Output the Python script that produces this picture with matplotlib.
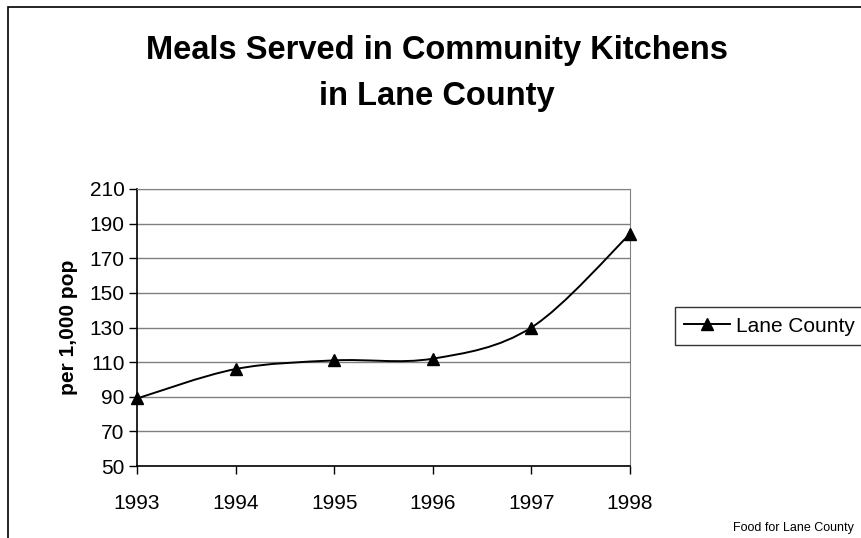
import numpy as np
import matplotlib.pyplot as plt
from matplotlib.path import Path
from matplotlib.patches import PathPatch, Rectangle
from matplotlib.lines import Line2D

years = [1993, 1994, 1995, 1996, 1997, 1998]
meals = [89, 106, 111, 112, 130, 184]
y_ticks = [50, 70, 90, 110, 130, 150, 170, 190, 210]

plt.rcParams['font.family'] = ['Liberation Sans', 'DejaVu Sans']

fig = plt.figure(figsize=(8.62, 5.38), dpi=100)
ax = fig.add_axes([137/862, 1-466/538, (630-137)/862, (466-189)/538])

# smoothed line (bezier through points, like the old spreadsheet "smoothed line")
x = np.array(years, dtype=float)
y = np.array(meals, dtype=float)
verts = [(x[0], y[0])]
codes = [Path.MOVETO]
n = len(x)
for i in range(n-1):
    i0 = max(i-1, 0)
    i3 = min(i+2, n-1)
    c1 = (x[i] + (x[i+1]-x[i0])/6, y[i] + (y[i+1]-y[i0])/6)
    c2 = (x[i+1] - (x[i3]-x[i])/6, y[i+1] - (y[i3]-y[i])/6)
    verts += [c1, c2, (x[i+1], y[i+1])]
    codes += [Path.CURVE4]*3
ax.add_patch(PathPatch(Path(verts, codes), fill=False, edgecolor='black', lw=1.4, zorder=3))
ax.plot(years, meals, ls='none', marker='^', ms=9, color='black', zorder=4, clip_on=False)

ax.set_xlim(1993, 1998)
ax.set_ylim(50, 210)
ax.set_yticks(y_ticks)
ax.set_xticks(years)
ax.tick_params(labelsize=15, length=6, width=1, color='black')
ax.tick_params(axis='y', pad=3)
ax.tick_params(axis='x', pad=14)
ax.yaxis.grid(True, color='#808080', lw=1)
ax.set_axisbelow(True)
for s in ['top', 'right']:
    ax.spines[s].set_color('#808080')
ax.spines['left'].set_linewidth(1.2)
ax.spines['bottom'].set_linewidth(1.2)
ax.set_ylabel('per 1,000 pop', fontsize=15, fontweight='bold', labelpad=8)

fig.text(437/862, 1-50/538, 'Meals Served in Community Kitchens', ha='center', va='center',
         fontsize=23.5, fontweight='bold')
fig.text(437/862, 1-97/538, 'in Lane County', ha='center', va='center',
         fontsize=23.5, fontweight='bold')

handle = Line2D([], [], color='black', marker='^', ms=8, lw=1.4)
fig.legend([handle], ['Lane County'], loc='center left', bbox_to_anchor=(675/862, 1-326/538),
           borderaxespad=0, fontsize=15, frameon=True, fancybox=False, edgecolor='black',
           handlelength=2.2, borderpad=0.45, handletextpad=0.3)

fig.text(733/862, 1-528/538, 'Food for Lane County', fontsize=9, va='center')

fig.patches.append(Rectangle((8/862, -0.1), 1.1, 1-7/538+0.1, transform=fig.transFigure,
                             fill=False, edgecolor='black', lw=1.2))

fig.savefig('out.png', dpi=100)
